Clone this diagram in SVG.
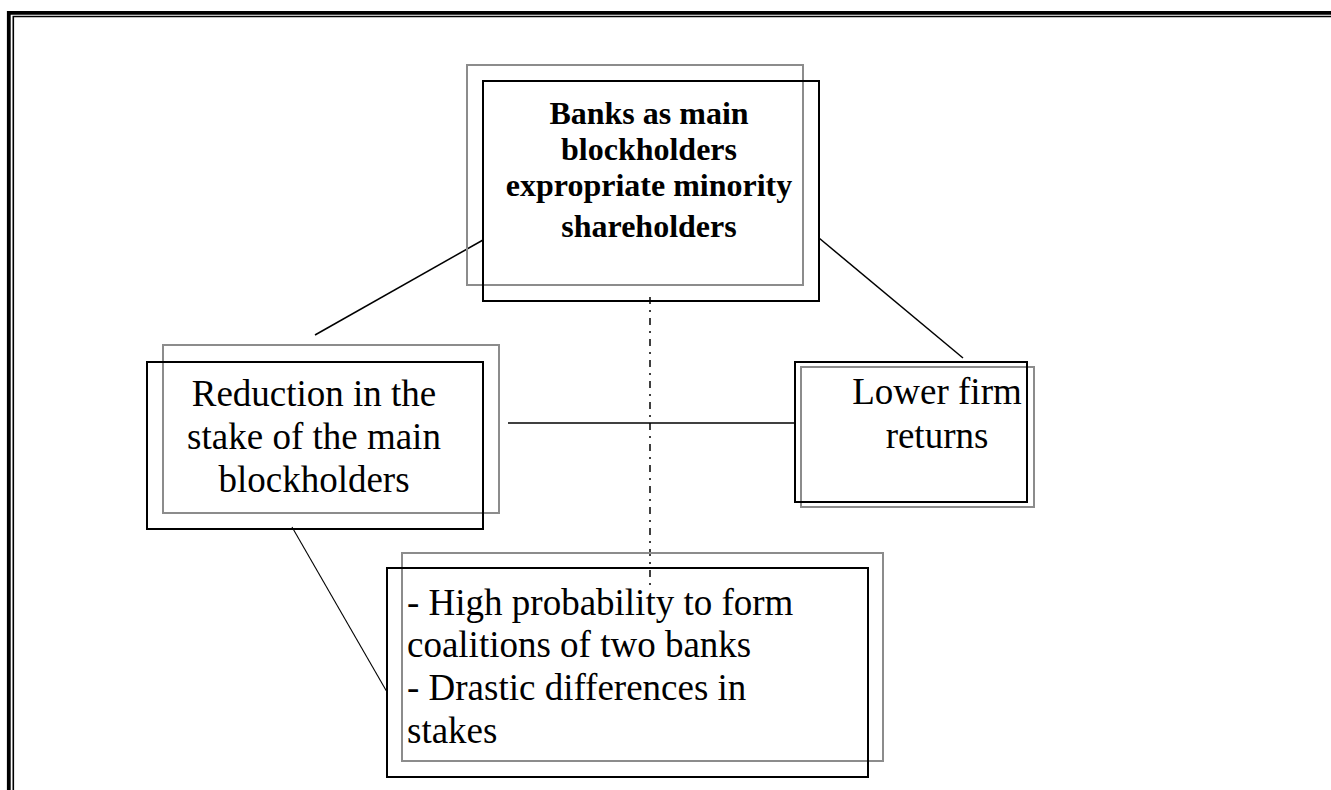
<svg xmlns="http://www.w3.org/2000/svg" width="1331" height="790" viewBox="0 0 1331 790">
<style>
.blk{fill:none;stroke:#000;stroke-width:2}
.gry{fill:none;stroke:#8c8c8c;stroke-width:2}
.t{font-family:"Liberation Serif","Times New Roman",serif;font-size:37px;fill:#000}
.tb{font-family:"Liberation Serif","Times New Roman",serif;font-size:32px;font-weight:bold;fill:#000}
.c{stroke:#000;stroke-width:1.5;fill:none}
</style>
<rect width="1331" height="790" fill="#fff"/>
<g id="frame">
<path d="M8.8,790 V12.8 H1331" fill="none" stroke="#000" stroke-width="3.8"/>
<path d="M13.3,790 V16.5 H1331" fill="none" stroke="#000" stroke-width="1.6"/>
</g>
<g id="connectors">
<line class="c" x1="483" y1="240" x2="315" y2="335"/>
<line class="c" x1="819" y1="238" x2="963" y2="358"/>
<line class="c" x1="508" y1="423" x2="795" y2="423"/>
<line stroke="#000" stroke-width="1.1" x1="292" y1="527" x2="387" y2="692"/>
<line stroke="#000" stroke-width="1.5" x1="650" y1="297" x2="650" y2="590" stroke-dasharray="7 6 2 6"/>
</g>
<g id="node-top">
<rect class="gry" x="467" y="65" width="336" height="220"/>
<rect class="blk" x="483" y="81" width="336" height="220"/>
<text class="tb" text-anchor="middle" x="649" y="124">Banks as main</text>
<text class="tb" text-anchor="middle" x="649" y="160">blockholders</text>
<text class="tb" text-anchor="middle" x="649" y="196">expropriate minority</text>
<text class="tb" text-anchor="middle" x="649" y="237">shareholders</text>
</g>
<g id="node-left">
<rect class="gry" x="163" y="345" width="336" height="168"/>
<rect class="blk" x="147" y="362" width="336" height="167"/>
<text class="t" text-anchor="middle" x="314" y="406">Reduction in the</text>
<text class="t" text-anchor="middle" x="314" y="449">stake of the main</text>
<text class="t" text-anchor="middle" x="314" y="492">blockholders</text>
</g>
<g id="node-right">
<rect class="gry" x="801" y="367" width="233" height="140"/>
<rect class="blk" x="795" y="362" width="232" height="140"/>
<text class="t" text-anchor="middle" x="937" y="404">Lower firm</text>
<text class="t" text-anchor="middle" x="937" y="448">returns</text>
</g>
<g id="node-bottom">
<rect class="gry" x="402" y="553" width="481" height="208"/>
<rect class="blk" x="387" y="568" width="481" height="209"/>
<text class="t" x="407" y="615">- High probability to form</text>
<text class="t" x="407" y="657">coalitions of two banks</text>
<text class="t" x="407" y="700">- Drastic differences in</text>
<text class="t" x="407" y="743">stakes</text>
</g>
</svg>
